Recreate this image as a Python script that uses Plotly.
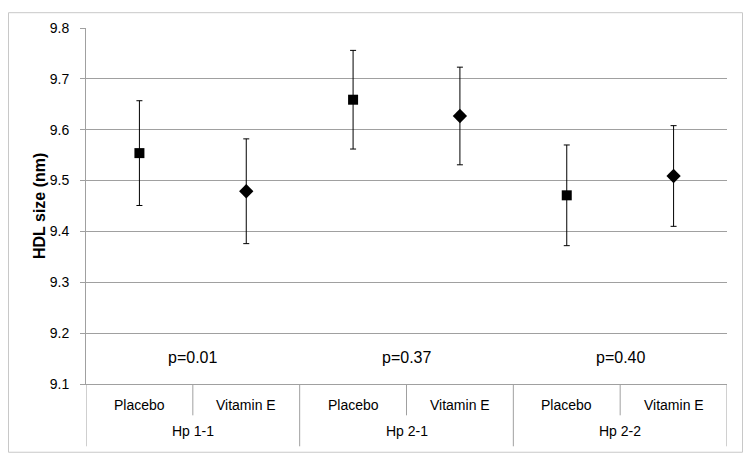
import plotly.graph_objects as go

groups = ["Hp 1-1", "Hp 2-1", "Hp 2-2"]
treatments = ["Placebo", "Vitamin E"]
placebo_mean = [9.554, 9.659, 9.471]
placebo_err = [0.103, 0.097, 0.099]
vite_mean = [9.479, 9.627, 9.509]
vite_err = [0.103, 0.096, 0.099]
p_values = ["p=0.01", "p=0.37", "p=0.40"]

font = "Liberation Sans, Arial, sans-serif"
grid = "#a0a0a0"

# one category per group/treatment pair, in plotting order
cats = [g + " " + t for g in groups for t in treatments]
plac_x = [g + " Placebo" for g in groups]
vite_x = [g + " Vitamin E" for g in groups]

fig = go.Figure()
fig.add_trace(go.Scatter(
    x=plac_x, y=placebo_mean, mode="markers", name="Placebo",
    marker=dict(symbol="square", size=10, color="black"),
    error_y=dict(type="data", array=placebo_err, color="black", thickness=1, width=3),
))
fig.add_trace(go.Scatter(
    x=vite_x, y=vite_mean, mode="markers", name="Vitamin E",
    marker=dict(symbol="diamond", size=11, color="black"),
    error_y=dict(type="data", array=vite_err, color="black", thickness=1, width=3),
))

# p-values inside the plot
for i, p in enumerate(p_values):
    fig.add_annotation(x=i * 2 + 0.5, xref="x", y=9.153, yref="y", text=p,
                       showarrow=False, font=dict(size=16))

# two-level category labels
for c in cats:
    fig.add_annotation(x=c, xref="x", y=-0.058, yref="paper", yanchor="middle",
                       text=c.split(" ", 2)[2], showarrow=False, font=dict(size=14))
for i, g in enumerate(groups):
    fig.add_annotation(x=i * 2 + 0.5, xref="x", y=-0.132, yref="paper", yanchor="middle",
                       text=g, showarrow=False, font=dict(size=14))

# dividers: long ones between groups, short ones between treatments
for k in range(len(cats) + 1):
    y0 = -0.175 if k % 2 == 0 else -0.088
    fig.add_shape(type="line", xref="x", yref="paper", x0=k - 0.5, x1=k - 0.5,
                  y0=0, y1=y0, line=dict(color=grid, width=1))

# y-axis title
fig.add_annotation(x=-0.0733, xref="paper", y=0.5, yref="paper", text="<b>HDL size (nm)</b>",
                   xanchor="center", yanchor="middle",
                   textangle=-90, showarrow=False, font=dict(size=16))

# outer chart border
fig.add_shape(type="rect", xref="paper", yref="paper", x0=-0.1209, x1=1.0242,
              y0=-0.1917, y1=1.043, line=dict(color="#c8c8c8", width=1))

fig.update_layout(
    width=743, height=454,
    margin=dict(l=78, r=24, t=16, b=78),
    paper_bgcolor="white", plot_bgcolor="white",
    showlegend=False,
    font=dict(family=font, size=14, color="black"),
)
fig.update_xaxes(
    type="category", categoryorder="array", categoryarray=cats, range=[-0.5, 5.5],
    showline=True, linecolor=grid, linewidth=1, showticklabels=False,
    ticks="", showgrid=False,
)
fig.update_yaxes(
    range=[9.1, 9.8], dtick=0.1, tickformat=".1f",
    showgrid=True, gridcolor=grid, gridwidth=1,
    showline=True, linecolor=grid, linewidth=1, zeroline=False,
    ticks="outside", ticklen=5, tickcolor=grid, ticklabelstandoff=8,
    tickfont=dict(size=14),
)

fig.write_html("out.html")
